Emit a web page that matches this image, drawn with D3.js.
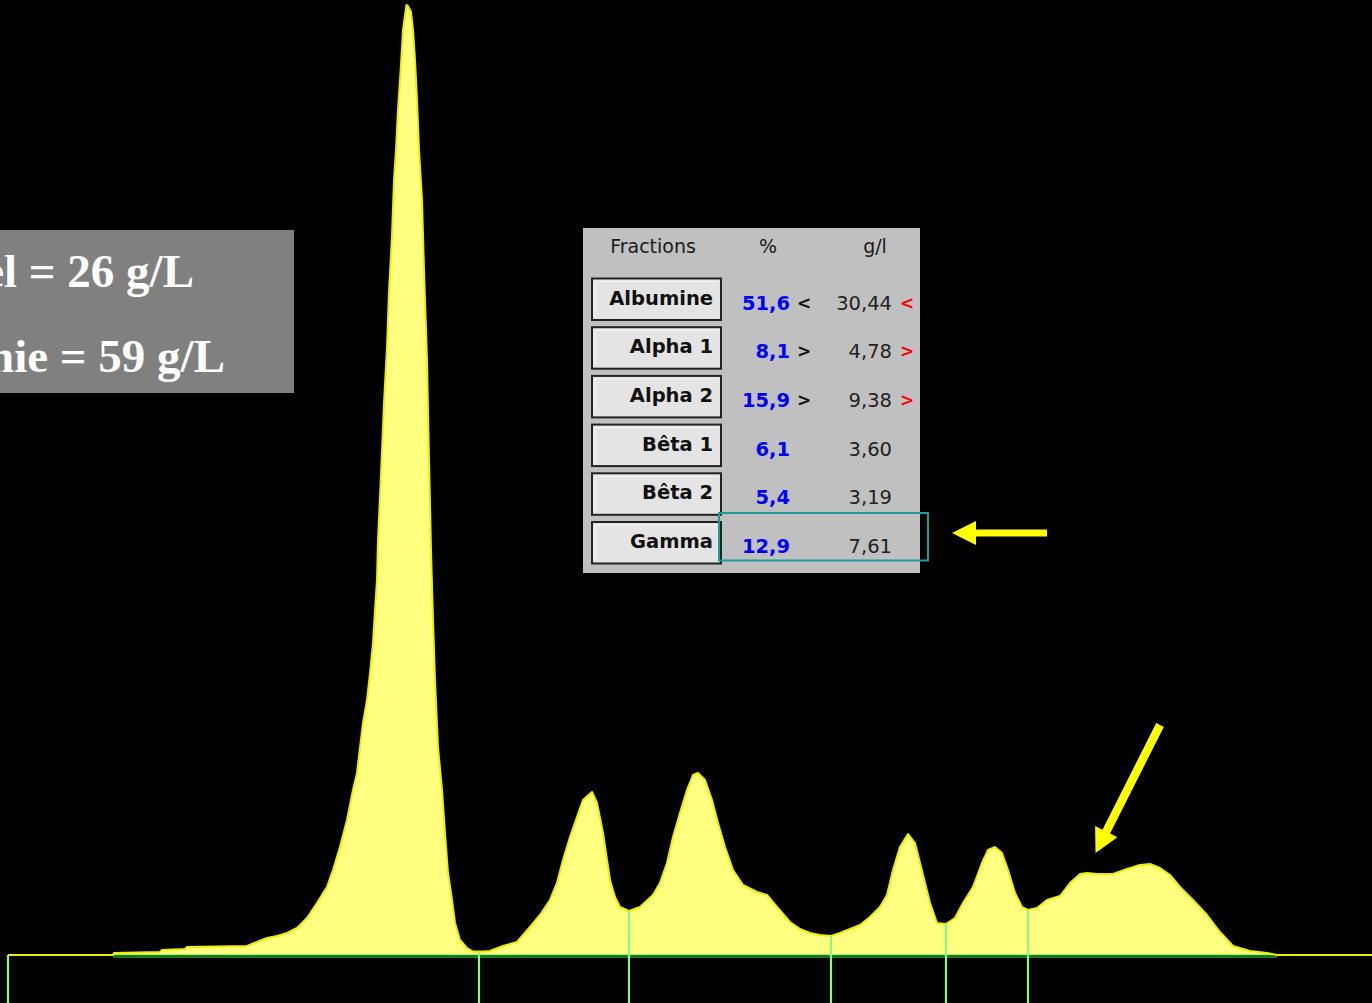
<!DOCTYPE html>
<html>
<head>
<meta charset="utf-8">
<script src="https://cdn.jsdelivr.net/npm/d3@7/dist/d3.min.js"></script>
<style>
  html, body { margin: 0; padding: 0; background: #000; overflow: hidden; }
  svg { display: block; }
</style>
</head>
<body>
<svg id="chart" width="1372" height="1003"></svg>
<script>
// Densitometer scan: position along the gel (scan points) and absorbance
const scanPos = [
  8, 113, 114, 160, 162, 185, 187, 247, 257, 267, 277, 287, 297, 307, 317, 327,
  333, 340, 347, 353, 357, 363, 367, 370, 373, 375, 377, 378, 380, 382, 384, 387,
  389, 392, 394, 396, 398, 401, 403, 405.5, 406.5, 408, 410, 411, 413, 415, 417,
  419, 422, 424, 427, 429, 431, 433, 435, 438, 442, 445, 448, 452, 455, 460, 467,
  473, 483, 490, 503, 517, 530, 540, 550, 557, 563, 570, 577, 583, 592, 597, 603,
  607, 610, 615, 620, 629, 640, 653, 660, 667, 673, 680, 687, 693, 698, 705, 712,
  718, 725, 733, 743, 757, 767, 777, 790, 800, 810, 820, 831, 840, 850, 860, 870,
  880, 887, 893, 900, 908, 915, 920, 925, 930, 937, 946, 955, 963, 973, 982, 988,
  995, 1002, 1008, 1015, 1022, 1028, 1037, 1047, 1060, 1070, 1080, 1087, 1097,
  1113, 1127, 1140, 1150, 1160, 1170, 1180, 1193, 1207, 1220, 1233, 1250, 1267,
  1277, 1372
];
const absorbance = [
  0, 0, 2, 3, 5, 6, 8, 9, 13, 17, 19, 22, 27, 37, 52, 68,
  85, 108, 135, 165, 182, 232, 255, 282, 312, 345, 375, 415, 458, 503, 552, 607,
  663, 719, 775, 805, 845, 890, 925, 943, 950, 949, 945, 943, 925, 895, 855,
  805, 755, 685, 595, 495, 405, 335, 275, 208, 165, 122, 82, 55, 32, 15, 7,
  3.5, 3.5, 4, 9, 13, 28, 40, 55, 72, 95, 118, 138, 155, 163, 152, 122,
  95, 75, 58, 48, 44, 48, 60, 72, 92, 118, 142, 165, 180, 182, 175, 155,
  132, 108, 85, 70, 63, 60, 48, 33, 26, 22, 20, 19, 22, 26, 30, 38,
  48, 60, 85, 108, 121, 112, 92, 72, 52, 32, 31, 37, 52, 68, 92, 105,
  108, 102, 85, 62, 48, 45, 47, 55, 59, 72, 81, 82, 81,
  81, 86, 90, 91, 87, 80, 68, 55, 40, 23, 9, 4, 2,
  0, 0
];

// Fraction boundaries along the scan
const scanStart = 8;
const cuts = [479, 629, 831, 946, 1028];

// Fraction table
const fractions = ["Albumine", "Alpha 1", "Alpha 2", "Bêta 1", "Bêta 2", "Gamma"];
const percents  = [51.6, 8.1, 15.9, 6.1, 5.4, 12.9];
const grams     = [30.44, 4.78, 9.38, 3.60, 3.19, 7.61];
const flags     = ["<", ">", ">", "", "", ""];
const headers   = ["Fractions", "%", "g/l"];

// Summary box
const summaryLines = ["Taux d'albumine réel = 26 g/L", "Protidémie = 59 g/L"];

const svg = d3.select("#chart");
const W = 1372, H = 1003;

svg.append("rect").attr("width", W).attr("height", H).attr("fill", "#000");

const x = d3.scaleLinear().domain([0, 1372]).range([0, 1372]);
const y = d3.scaleLinear().domain([0, 950]).range([955, 5]);

const scan = scanPos.map((p, i) => ({ p, v: absorbance[i] }));

// Filled electrophoretic profile
const area = d3.area()
  .x(d => x(d.p)).y0(y(0)).y1(d => y(d.v))
  .curve(d3.curveLinear);
const line = d3.line()
  .x(d => x(d.p)).y(d => y(d.v))
  .curve(d3.curveLinear);

svg.append("path").datum(scan)
  .attr("d", area)
  .attr("fill", "#ffff80");

// Baseline under the profile
svg.append("line")
  .attr("x1", x(113)).attr("x2", x(1277))
  .attr("y1", y(0) + 1.5).attr("y2", y(0) + 1.5)
  .attr("stroke", "#137c15").attr("stroke-width", 3);
svg.append("line")
  .attr("x1", x(113)).attr("x2", x(1277))
  .attr("y1", y(0) - 0.5).attr("y2", y(0) - 0.5)
  .attr("stroke", "#b4ec84").attr("stroke-width", 1);

svg.append("path").datum(scan)
  .attr("d", line)
  .attr("fill", "none")
  .attr("stroke", "#eeee00")
  .attr("stroke-width", 2)
  .attr("stroke-linejoin", "round");

// Fraction dividers: from the profile down to the bottom edge
const bis = d3.bisector(d => d.p).left;
function valueAt(p) {
  const i = Math.max(1, bis(scan, p));
  const a = scan[i - 1], b = scan[i];
  const t = (p - a.p) / (b.p - a.p);
  return a.v + t * (b.v - a.v);
}
const dividerColor = "#88f888";
svg.append("line")
  .attr("x1", x(scanStart)).attr("x2", x(scanStart))
  .attr("y1", y(0)).attr("y2", H)
  .attr("stroke", dividerColor).attr("stroke-width", 2.2);
svg.selectAll("line.cut").data(cuts).join("line")
  .attr("class", "cut")
  .attr("x1", d => x(d)).attr("x2", d => x(d))
  .attr("y1", d => y(valueAt(d)))
  .attr("y2", H)
  .attr("stroke", dividerColor).attr("stroke-width", 2.2);

// Summary box (left)
svg.append("rect")
  .attr("x", 0).attr("y", 230).attr("width", 294).attr("height", 163)
  .attr("fill", "#808080");
const summaryPos = [{ x: 194, y: 287 }, { x: 225, y: 372 }];
svg.selectAll("text.summary").data(summaryLines).join("text")
  .attr("class", "summary")
  .attr("x", (d, i) => summaryPos[i].x)
  .attr("y", (d, i) => summaryPos[i].y)
  .attr("text-anchor", "end")
  .attr("font-family", "'Liberation Serif', 'Times New Roman', serif")
  .attr("font-weight", "bold")
  .attr("font-size", 47)
  .attr("fill", "#ffffff")
  .text(d => d);

// Fraction table panel
const tbl = svg.append("g");
tbl.append("rect")
  .attr("x", 583).attr("y", 228).attr("width", 337).attr("height", 345)
  .attr("fill", "#c0c0c0");

const uiFont = "'DejaVu Sans', Verdana, sans-serif";
const headerX = [653, 768, 875];
tbl.selectAll("text.hdr").data(headers).join("text")
  .attr("class", "hdr")
  .attr("x", (d, i) => headerX[i]).attr("y", 253)
  .attr("text-anchor", "middle")
  .attr("font-family", uiFont)
  .attr("font-size", 19)
  .attr("fill", "#1a1a1a")
  .text(d => d);

const fmt = (v, digits) => v.toFixed(digits).replace(".", ",");
const rowTop = i => 278.5 + i * 48.7;

const rows = tbl.selectAll("g.row").data(fractions).join("g")
  .attr("class", "row")
  .attr("transform", (d, i) => `translate(0,${rowTop(i)})`);

rows.append("rect")
  .attr("x", 592).attr("y", 0).attr("width", 129).attr("height", 41.5)
  .attr("fill", "#e4e4e4")
  .attr("stroke", "#222").attr("stroke-width", 2);
rows.append("path")
  .attr("d", "M595,38.5 V3 H718")
  .attr("fill", "none").attr("stroke", "#f6f6f6").attr("stroke-width", 1);

rows.append("text")
  .attr("x", 713).attr("y", 26)
  .attr("text-anchor", "end")
  .attr("font-family", uiFont).attr("font-weight", "bold").attr("font-size", 19.5)
  .attr("fill", "#111")
  .text(d => d);

rows.append("text")
  .attr("x", 790).attr("y", 31)
  .attr("text-anchor", "end")
  .attr("font-family", uiFont).attr("font-weight", "bold").attr("font-size", 19.5)
  .attr("fill", "#0000ff")
  .text((d, i) => fmt(percents[i], 1));

rows.append("text")
  .attr("x", 797).attr("y", 30)
  .attr("font-family", uiFont).attr("font-weight", "bold").attr("font-size", 17)
  .attr("fill", "#111")
  .text((d, i) => flags[i]);

rows.append("text")
  .attr("x", 892).attr("y", 31)
  .attr("text-anchor", "end")
  .attr("font-family", uiFont).attr("font-size", 19.5)
  .attr("fill", "#222")
  .text((d, i) => fmt(grams[i], 2));

rows.append("text")
  .attr("x", 900).attr("y", 30)
  .attr("font-family", uiFont).attr("font-weight", "bold").attr("font-size", 17)
  .attr("fill", "#ff0000")
  .text((d, i) => flags[i]);

// Highlight around the gamma values
tbl.append("rect")
  .attr("x", 719).attr("y", 513).attr("width", 209).attr("height", 47.5)
  .attr("fill", "none").attr("stroke", "#1c9c9c").attr("stroke-width", 2);

// Pointer arrows
function arrow(tipX, tipY, tailX, tailY, shaftW, headL, headW) {
  const dx = tailX - tipX, dy = tailY - tipY;
  const L = Math.hypot(dx, dy);
  const ang = Math.atan2(dy, dx) * 180 / Math.PI;
  const g = svg.append("g")
    .attr("transform", `translate(${tipX},${tipY}) rotate(${ang})`);
  g.append("path")
    .attr("d", `M0,0 L${headL},${-headW / 2} L${headL},${-shaftW / 2} L${L},${-shaftW / 2}
                L${L},${shaftW / 2} L${headL},${shaftW / 2} L${headL},${headW / 2} Z`)
    .attr("fill", "#ffff00");
}
arrow(952, 533, 1047, 533, 7, 24, 24);
arrow(1095.5, 853, 1160, 725, 8.5, 24, 25);
</script>
</body>
</html>
